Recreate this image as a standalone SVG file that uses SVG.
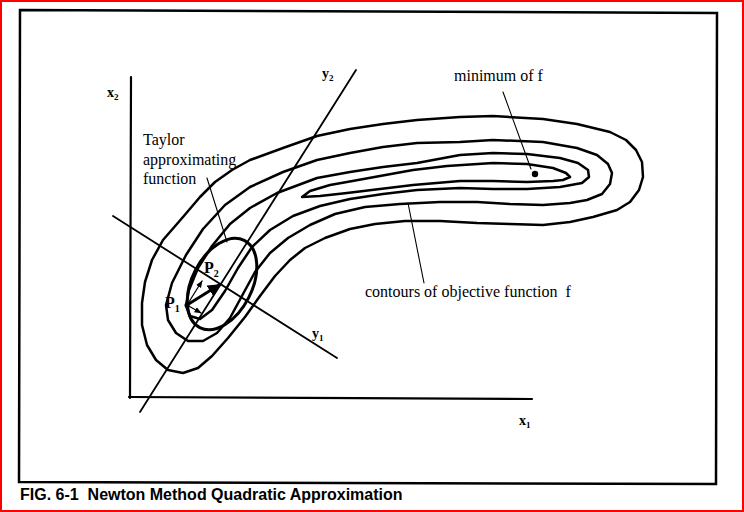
<svg xmlns="http://www.w3.org/2000/svg" width="744" height="512" viewBox="0 0 744 512">
<defs>
<style>
.ln{fill:none;stroke:#000;stroke-linejoin:round;stroke-linecap:round}
.ct{fill:none;stroke:#000;stroke-width:2.5;stroke-linejoin:round}
.ser{font-family:"Liberation Serif","Times New Roman",serif;fill:#000}
.lbl{font-family:"Liberation Serif","Times New Roman",serif;font-weight:bold;fill:#000}
.cap{font-family:"Liberation Sans",Arial,Helvetica,sans-serif;font-weight:bold;fill:#000}
</style>
<marker id="bigHead" viewBox="0 0 10 10" refX="9" refY="5" markerWidth="4" markerHeight="4" orient="auto" markerUnits="strokeWidth">
<path d="M0,0 L10,5 L0,10 z" fill="#000"/>
</marker>
<marker id="smallHead" viewBox="0 0 10 10" refX="9" refY="5" markerWidth="6" markerHeight="6" orient="auto" markerUnits="strokeWidth">
<path d="M0,1 L10,5 L0,9 z" fill="#000"/>
</marker>
</defs>
<rect x="0" y="0" width="744" height="512" fill="#fff"/>
<rect x="1" y="1" width="742" height="510" fill="none" stroke="#ff0000" stroke-width="2"/>
<g id="frame">
<polygon points="20,10 717,13 716,484 19,482" fill="none" stroke="#000" stroke-width="2.5"/>
</g>
<g id="axes">
<line class="ln" x1="131" y1="77" x2="130" y2="398" stroke-width="2.2"/>
<line class="ln" x1="129" y1="397" x2="532" y2="399" stroke-width="2.2"/>
<line class="ln" x1="356" y1="70" x2="140" y2="412" stroke-width="1.8"/>
<line class="ln" x1="113" y1="216" x2="337" y2="358" stroke-width="1.8"/>
</g>
<g id="contours">
<path id="c1" class="ct" d="M183,217 L200,197 L215,182 L232,170 L250,160 L283,148 L317,136 L350,129 L383,124 L417,120 L460,117 L493,116 L543,119 L577,124 L610,132 L626,140 L636,150 L642,162 L643,177 L639,190 L630,202 L617,210 L593,217 L570,222 L543,225 L510,224 L477,223 L440,221 L405,221 L375,224 L350,229 L325,238 L305,248 L290,260 L275,276 L260,296 L245,317 L228,338 L212,356 L198,368 L183,373 L168,370 L156,360 L147,345 L142,325 L142,303 L145,282 L152,260 L163,240 Z"/>
<path id="c2" class="ct" d="M166,305 L172,283 L186,255 L203,229 L225,205 L250,187 L283,172 L317,160 L350,153 L383,147 L417,143 L460,142 L493,140 L543,142 L577,148 L597,155 L608,164 L612,173 L610,184 L602,194 L587,200 L570,203 L543,205 L510,204 L477,202 L440,202 L400,204 L365,207 L335,214 L310,225 L288,238 L270,253 L255,272 L243,294 L230,318 L217,333 L203,341 L188,341 L176,333 L168,320 Z"/>
<path id="c3" class="ct" d="M186,306 L189,290 L198,268 L212,246 L230,224 L250,208 L277,193 L317,178 L350,172 L383,167 L417,163 L460,155 L493,153 L527,154 L560,158 L578,163 L588,170 L589,177 L582,183 L560,187 L527,189 L493,189 L460,188 L417,190 L383,194 L350,199 L320,206 L293,216 L270,230 L252,247 L238,268 L225,291 L212,310 L200,319 L190,316 Z"/>
<path id="c4" class="ct" d="M302,197 L310,191 L330,185 L347,182 L380,176 L413,170 L447,166 L493,163 L527,164 L553,168 L566,173 L570,177 L563,180 L553,181 L527,182 L493,181 L460,181 L413,185 L380,189 L347,193 L320,196 Z"/>
</g>
<g id="taylor-ellipse">
<ellipse cx="222" cy="284" rx="49" ry="30" transform="rotate(-63 222 284)" fill="none" stroke="#000" stroke-width="3"/>
</g>
<g id="minimum-point">
<circle cx="535" cy="174" r="3.2" fill="#000"/>
</g>
<g id="connectors">
<line class="ln" x1="207" y1="178" x2="227" y2="242" stroke-width="1.1"/>
<line class="ln" x1="503" y1="92" x2="531" y2="169" stroke-width="1.1"/>
<line class="ln" x1="408" y1="203" x2="424" y2="283" stroke-width="1.1"/>
<line class="ln" x1="187" y1="305" x2="219" y2="285" stroke-width="3" marker-end="url(#bigHead)"/>
<line class="ln" x1="187" y1="305" x2="201" y2="313" stroke-width="1.2" marker-end="url(#smallHead)"/>
<line class="ln" x1="187" y1="305" x2="202" y2="281" stroke-width="1.2" marker-end="url(#smallHead)"/>
<circle cx="187" cy="305" r="2.5" fill="#000"/>
</g>
<g id="label-x2"><text class="lbl" x="107" y="97" font-size="14">x<tspan font-size="9" dy="3">2</tspan></text></g>
<g id="label-y2"><text class="lbl" x="322" y="78" font-size="14">y<tspan font-size="9" dy="3">2</tspan></text></g>
<g id="label-y1"><text class="lbl" x="312" y="338" font-size="14">y<tspan font-size="9" dy="3">1</tspan></text></g>
<g id="label-x1"><text class="lbl" x="519" y="425" font-size="14">x<tspan font-size="9" dy="3">1</tspan></text></g>
<g id="label-p1"><text class="lbl" x="165" y="308" font-size="16">P<tspan font-size="10" dy="4">1</tspan></text></g>
<g id="label-p2"><text class="lbl" x="204" y="273" font-size="16">P<tspan font-size="10" dy="4">2</tspan></text></g>
<g id="label-taylor">
<text class="ser" font-size="16"><tspan x="143" y="145">Taylor</tspan><tspan x="143" y="164.5">approximating</tspan><tspan x="143" y="184">function</tspan></text>
</g>
<g id="label-minimum"><text class="ser" x="454" y="81" font-size="16">minimum of f</text></g>
<g id="label-contours"><text class="ser" x="365" y="297" font-size="16" xml:space="preserve">contours of objective function  f</text></g>
<g id="caption"><text class="cap" x="20" y="500" font-size="16" xml:space="preserve">FIG. 6-1  Newton Method Quadratic Approximation</text></g>
</svg>
